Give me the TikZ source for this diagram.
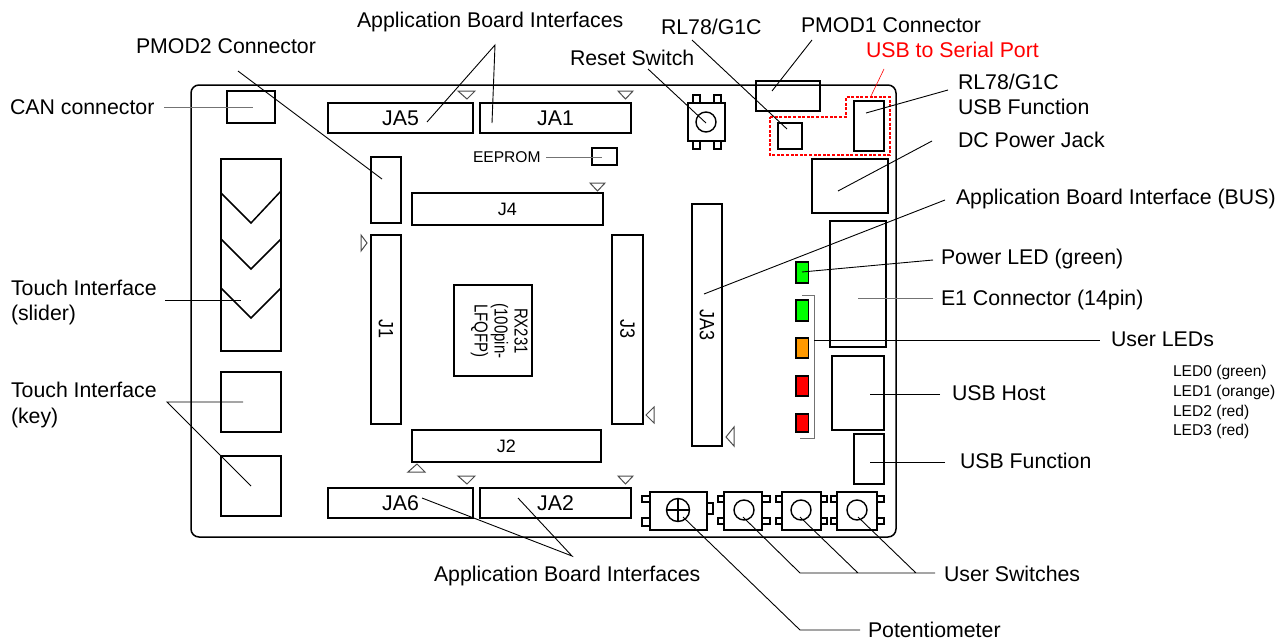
\documentclass[tikz,border=0pt]{standalone}
\usepackage{fontspec}
\setmainfont{Liberation Sans}
\definecolor{ledgreen}{RGB}{0,255,0}
\definecolor{ledorange}{RGB}{255,153,0}
\definecolor{ledred}{RGB}{255,0,0}
\newcommand{\partbox}[6][partbox]{%
  \pgfmathsetmacro{\cxx}{(#3+#5)/2}\pgfmathsetmacro{\cyy}{(#4+#6)/2}%
  \pgfmathsetmacro{\wdd}{#5-#3}\pgfmathsetmacro{\htt}{#6-#4}%
  \node[#1,minimum width=\wdd pt,minimum height=\htt pt] (#2) at (\cxx,\cyy) {};}
\newcommand{\partlab}[7][partbox]{%
  \pgfmathsetmacro{\cxx}{(#3+#5)/2}\pgfmathsetmacro{\cyy}{(#4+#6)/2}%
  \pgfmathsetmacro{\wdd}{#5-#3}\pgfmathsetmacro{\htt}{#6-#4}%
  \node[#1,minimum width=\wdd pt,minimum height=\htt pt] (#2) at (\cxx,\cyy) {#7};}
\newcommand{\turned}[1]{\rotatebox{-90}{\scalebox{1}[1.15]{#1}}}
\tikzset{
  partbox/.style={draw=black,line width=1.5pt,inner sep=0pt,outer sep=0pt,font=\fontsize{18}{20}\selectfont},
  jabox/.style={partbox,font=\fontsize{21.3}{24}\selectfont},
  tabbox/.style={draw=black,line width=1.3pt,inner sep=0pt,outer sep=0pt},
  pin/.style={draw=black!70,line width=1pt,line join=miter},
  leader/.style={draw=black,line width=0.9pt},
  softleader/.style={draw=black!55,line width=1pt},
  multilab/.style={inner sep=0pt,outer sep=0pt,font=\fontsize{21.3}{25.5}\selectfont,align=left,anchor=west},
  lab/.style={multilab,text height=15.3pt,text depth=0pt},
  smalllab/.style={inner sep=0pt,outer sep=0pt,font=\fontsize{15.6}{18}\selectfont,anchor=west,text height=11.2pt,text depth=0pt},
  knob/.style={circle,draw=black,line width=1.4pt,inner sep=0pt,outer sep=0pt},
}
\begin{document}
\begin{tikzpicture}[x=1pt,y=-1pt]
\useasboundingbox (0,0) rectangle (1278,640);
% board
\partbox[partbox,rounded corners=8pt]{board}{191}{85}{896}{537}
% connectors
\partbox{can}{227}{91}{275}{123}
\partbox{slider}{221}{159}{281}{351}
\draw[line width=1.5pt] (221,193) -- (251,223) -- (281,191);
\draw[line width=1.5pt] (221,239) -- (251,269) -- (281,239);
\draw[line width=1.5pt] (221,288) -- (251,318) -- (281,288);
\partbox{keya}{221}{372}{281}{432}
\partbox{keyb}{221}{456}{281}{516}
\partlab[jabox]{ja5}{328}{103}{473}{133}{JA5}
\partlab[jabox]{ja1}{480}{103}{631}{133}{JA1}
\partbox{pmodtwo}{371}{157}{401}{223}
\partlab{jone}{371}{235}{401}{424}{\turned{J1}}
\partlab{jfour}{412}{193}{603}{225}{J4}
\partlab{jthree}{612}{235}{643}{424}{\turned{J3}}
\partlab{jtwo}{412}{430}{601}{462}{J2}
\partlab{jathree}{692}{204}{722}{446}{\turned{JA3}}
\partlab[jabox]{jasix}{328}{488}{473}{518}{JA6}
\partlab[jabox]{jatwo}{480}{488}{631}{518}{JA2}
\partbox{rx}{454}{285}{532}{376}
\node[inner sep=0pt,outer sep=0pt] (rxtext) at (498.5,331) {\rotatebox{-90}{\scalebox{1}[1.25]{\fontsize{15}{16}\selectfont\begin{tabular}{@{}c@{}}RX231\\(100pin-\\LFQFP)\end{tabular}}}};
% pin-one markers
\draw[pin] (458,91) -- (475,91) -- (467,99) -- cycle;
\draw[pin] (618,91) -- (633,91) -- (625.5,99) -- cycle;
\draw[pin] (590,183) -- (605,183) -- (597.5,191) -- cycle;
\draw[pin] (361,235) -- (361,251) -- (367,243) -- cycle;
\draw[pin] (654,407) -- (654,423) -- (646,415) -- cycle;
\draw[pin] (734,427) -- (734,446) -- (726,437) -- cycle;
\draw[pin] (408,472) -- (425,472) -- (417,464) -- cycle;
\draw[pin] (458,476) -- (475,476) -- (467,484) -- cycle;
\draw[pin] (618,476) -- (633,476) -- (625.5,484) -- cycle;
% eeprom
\partbox{eeprom}{592}{148}{617}{165}
% reset switch
\partbox[tabbox]{rt1}{693}{95}{700}{103}
\partbox[tabbox]{rt2}{714}{95}{721}{103}
\partbox[tabbox]{rt3}{693}{141}{700}{149}
\partbox[tabbox]{rt4}{714}{141}{721}{149}
\partbox{reset}{688}{103}{725}{141}
\node[knob,minimum size=20pt] (resetk) at (706,122) {};
% top-right
\partbox{pmodone}{756}{81}{820}{111}
\partbox{rl}{778}{123}{802}{149}
\partbox{usbf}{854}{101}{884}{151}
\partbox{dc}{812}{159}{888}{213}
\draw[red,line width=1.4pt,dash pattern=on 3pt off 1.6pt] (770,117) -- (846,117) -- (846,97) -- (890,97) -- (890,155) -- (770,155) -- cycle;
\partbox{eone}{830}{221}{886}{347}
\partbox{host}{832}{356}{884}{430}
\partbox{usbb}{854}{434}{884}{484}
% LEDs
\partbox[partbox,fill=ledgreen]{ledp}{796}{262}{808.5}{283}
\partbox[partbox,fill=ledgreen]{leda}{796}{300}{808.5}{321}
\partbox[partbox,fill=ledorange]{ledb}{796}{338}{808.5}{358}
\partbox[partbox,fill=ledred]{ledc}{796}{376}{808.5}{396}
\partbox[partbox,fill=ledred]{ledd}{796}{414}{808.5}{432}
\draw[softleader] (802,295) -- (814,295) -- (814,438) -- (800,438);
% potentiometer
\partbox[tabbox]{pt1}{642}{496}{650}{502}
\partbox[tabbox]{pt2}{642}{518}{650}{526}
\partbox[tabbox]{pt3}{707}{503}{713}{514}
\partbox{pot}{650}{492}{707}{530}
\node[knob,minimum size=23pt] (potk) at (678,510) {};
\draw[line width=1.3pt] (potk.west) -- (potk.east) (potk.north) -- (potk.south);
% switches
\partbox[tabbox]{sa1}{718}{496}{724}{502}
\partbox[tabbox]{sa2}{718}{518}{724}{524}
\partbox[tabbox]{sa3}{762}{496}{770}{502}
\partbox[tabbox]{sa4}{762}{518}{770}{524}
\partbox{swa}{724}{492}{762}{530}
\node[knob,minimum size=20pt] (swak) at (744,510) {};
\partbox[tabbox]{sb1}{776}{496}{782}{502}
\partbox[tabbox]{sb2}{776}{518}{782}{524}
\partbox[tabbox]{sb3}{821}{496}{827}{502}
\partbox[tabbox]{sb4}{821}{518}{827}{524}
\partbox{swb}{782}{492}{821}{530}
\node[knob,minimum size=20pt] (swbk) at (801,510) {};
\partbox[tabbox]{sc1}{831}{496}{837}{502}
\partbox[tabbox]{sc2}{831}{518}{837}{524}
\partbox[tabbox]{sc3}{877}{496}{884}{502}
\partbox[tabbox]{sc4}{877}{518}{884}{524}
\partbox{swc}{837}{492}{877}{530}
\node[knob,minimum size=20pt] (swck) at (857,510) {};
% labels
\node[lab] (lcan) at (10,107) {CAN connector};
\node[lab] (lpmodtwo) at (136,46) {PMOD2 Connector};
\node[lab] (labtop) at (357,20) {Application Board Interfaces};
\node[lab] (lrl) at (661,27) {RL78/G1C};
\node[lab] (lpmodone) at (801,25) {PMOD1 Connector};
\node[lab,text=red] (lserial) at (866,50) {USB to Serial Port};
\node[lab] (lreset) at (570,58) {Reset Switch};
\node[multilab] (lrlusb) at (958,94.5) {RL78/G1C\\USB Function};
\node[lab] (ldc) at (958,140) {DC Power Jack};
\node[lab] (lbus) at (956,197) {Application Board Interface (BUS)};
\node[lab] (lpower) at (941,257) {Power LED (green)};
\node[lab] (leone) at (941,298) {E1 Connector (14pin)};
\node[lab] (luser) at (1111,339) {User LEDs};
\node[lab] (lhost) at (952,393) {USB Host};
\node[lab] (lfunc) at (960,461) {USB Function};
\node[lab] (lsw) at (944,574) {User Switches};
\node[lab] (lpot) at (868,630) {Potentiometer};
\node[lab] (labbot) at (434,574) {Application Board Interfaces};
\node[multilab] (lslider) at (11,302.5) {Touch Interface\\(slider)};
\node[multilab] (lkey) at (11,405) {Touch Interface\\(key)};
\node[smalllab] (leep) at (473,157) {EEPROM};
\node[smalllab] (ledz) at (1173,371) {LED0 (green)};
\node[smalllab] (ledo) at (1173,390.5) {LED1 (orange)};
\node[smalllab] (ledt) at (1173,410.5) {LED2 (red)};
\node[smalllab] (ledh) at (1173,430) {LED3 (red)};
% leader ends
\coordinate (e1) at (253,107);
\coordinate (e2) at (382,179);
\coordinate (e3) at (427,122);
\coordinate (e4) at (492,123);
\coordinate (e5) at (787,129);
\coordinate (e6) at (772,91);
\coordinate (e7) at (866,113);
\coordinate (e8) at (838,191);
\coordinate (e9) at (704,294);
\coordinate (e10) at (802,272);
\coordinate (e11) at (858,298);
\coordinate (e12) at (870,394);
\coordinate (e13) at (870,462);
\coordinate (e14) at (241,300.5);
\coordinate (e15) at (243,402);
\coordinate (e16) at (251,486);
\coordinate (e17) at (422,498);
\coordinate (e18) at (518,498);
\coordinate (e19) at (602,157);
\coordinate (s1) at (164,107);
\coordinate (s2) at (238,71);
\coordinate (s3) at (495,45);
\coordinate (s4) at (692,40);
\coordinate (s5) at (812,40);
\coordinate (s6) at (884,69);
\coordinate (e6b) at (871,96);
\coordinate (s7) at (648,69);
\coordinate (e7b) at (706,123);
\coordinate (s8) at (948,90);
\coordinate (s9) at (932,141);
\coordinate (s10) at (945,200);
\coordinate (s11) at (933,260);
\coordinate (s12) at (933,298);
\coordinate (s13) at (814,340);
\coordinate (s14) at (1100,340);
\coordinate (s15) at (940,394);
\coordinate (s16) at (945,462);
\coordinate (s17) at (165,300.5);
\coordinate (s18) at (167,402);
\coordinate (s19) at (572,556);
\coordinate (s20) at (546,157);
\coordinate (k1) at (800,573);
\coordinate (k2) at (858,573);
\coordinate (k3) at (916,573);
\coordinate (k4) at (935,573);
\coordinate (k5) at (743,517);
\coordinate (k6) at (800,517);
\coordinate (k7) at (858,517);
\coordinate (p1) at (683,517);
\coordinate (p2) at (800,630);
\coordinate (p3) at (860,630);
% leaders
\draw[softleader] (s1) -- (e1);
\draw[leader] (s2) -- (e2);
\draw[leader] (e3) -- (s3) -- (e4);
\draw[leader] (s4) -- (e5);
\draw[leader] (s5) -- (e6);
\draw[red,line width=0.6pt] (s6) -- (e6b);
\draw[leader] (s7) -- (e7b);
\draw[leader] (s8) -- (e7);
\draw[leader] (s9) -- (e8);
\draw[leader] (s10) -- (e9);
\draw[leader] (s11) -- (e10);
\draw[softleader] (s12) -- (e11);
\draw[leader] (s13) -- (s14);
\draw[leader] (s15) -- (e12);
\draw[leader] (s16) -- (e13);
\draw[leader] (s17) -- (e14);
\draw[leader] (e15) -- (s18) -- (e16);
\draw[leader] (e17) -- (s19) -- (e18);
\draw[softleader] (s20) -- (e19);
\draw[leader] (k5) -- (k1) -- (k4) (k6) -- (k2) (k7) -- (k3);
\draw[leader] (p1) -- (p2) -- (p3);
\end{tikzpicture}
\end{document}
